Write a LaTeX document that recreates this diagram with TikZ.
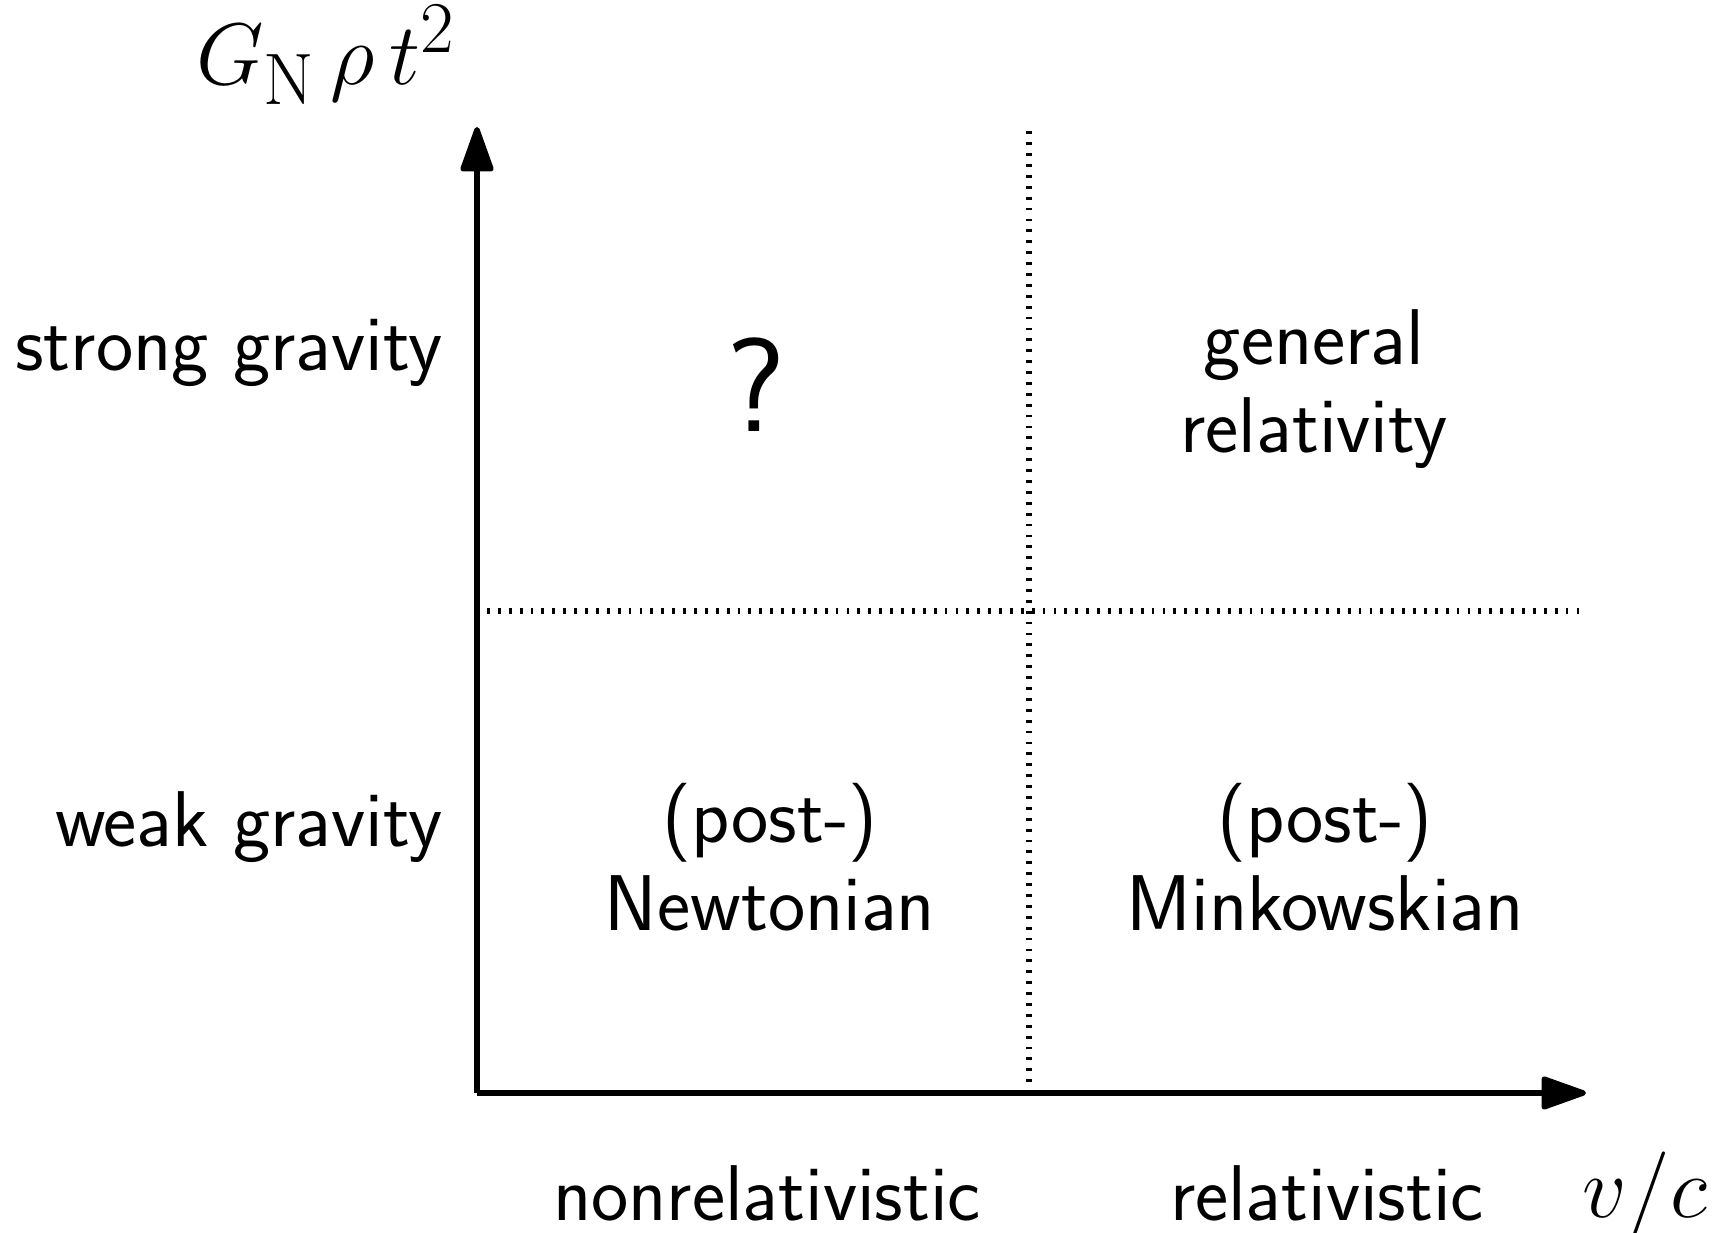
\documentclass[tikz,border=0pt]{standalone}
\usetikzlibrary{arrows.meta}

\begin{document}
\begin{tikzpicture}[
    axis/.style={line width=1.5pt, -{Triangle[length=5mm, width=3.4mm, round]}},
    divider/.style={line width=1.5pt, dash pattern=on 0.8pt off 2.3pt},
    lbl/.style={font=\sffamily\fontsize{22.5}{25}\selectfont, align=center, inner sep=0pt},
    mathlbl/.style={font=\fontsize{24.88}{30}\selectfont, inner sep=0pt},
    bigq/.style={font=\sffamily\fontsize{38}{40}\selectfont, inner sep=0pt},
]
\useasboundingbox (0,0) rectangle (17.17,12.33);

\coordinate (origin) at (4.77,1.40);
\coordinate (ytip) at (4.77,11.06);
\coordinate (xtip) at (15.86,1.40);
\coordinate (vtop) at (10.29,11.04);
\coordinate (vbot) at (10.29,1.40);
\coordinate (hleft) at (4.87,6.22);
\coordinate (hright) at (15.79,6.22);

\draw[divider] (vbot) -- (vtop);
\draw[divider] (hleft) -- (hright);
\draw[axis] (origin) -- (ytip);
\draw[axis] (origin) -- (xtip);

\node[mathlbl] (ylabel) at (3.26,11.78) {$G_{\mathrm{N}}\,\rho\,t^2$};
\node[mathlbl] (xlabel) at (16.45,0.37) {$v/c$};

\node[lbl, anchor=east] (strong) at (4.43,8.80) {strong gravity};
\node[lbl, anchor=east] (weak) at (4.43,4.06) {weak gravity};

\node[lbl] (nonrel) at (7.67,0.40) {nonrelativistic};
\node[lbl] (rel) at (13.27,0.40) {relativistic};

\node[bigq] (unknown) at (7.56,8.48) {?};
\node[lbl] (gr) at (13.14,8.44) {general\\relativity};
\node[lbl] (newton) at (7.70,3.76) {(post-)\\Newtonian};
\node[lbl] (minkowski) at (13.25,3.76) {(post-)\\Minkowskian};

\end{tikzpicture}
\end{document}
